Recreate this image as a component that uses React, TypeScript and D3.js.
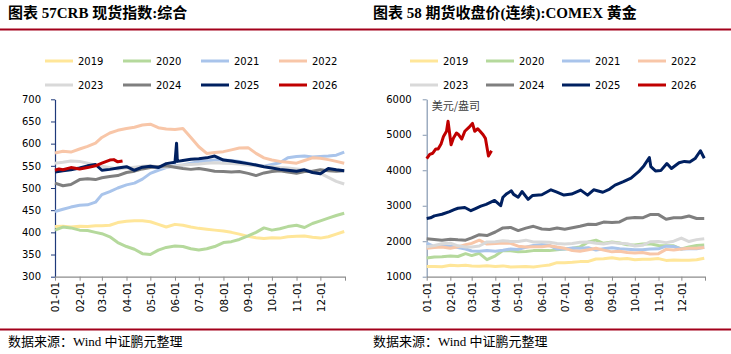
import * as d3 from 'd3'
import { useEffect, useRef } from 'react'

const W = 731
const H = 354

const years = ['2019', '2020', '2021', '2022', '2023', '2024', '2025', '2026']
const colors = ['#FFE699', '#B5D99C', '#A9C4EB', '#F8C6A8', '#D9D9D9', '#7F7F7F', '#002060', '#C00000']

// x tick labels (month starts) - the year end gets a tick but no label
const monthTicks = ['01-01', '02-01', '03-01', '04-01', '05-01', '06-01', '07-01', '08-01', '09-01', '10-01', '11-01', '12-01']

// common sample dates for the full-year series
const dates = [
  '01-01', '01-11', '01-21', '02-01', '02-11', '02-21', '03-01', '03-11', '03-21',
  '04-01', '04-11', '04-21', '05-01', '05-11', '05-21', '06-01', '06-11', '06-21',
  '07-01', '07-11', '07-21', '08-01', '08-11', '08-21', '09-01', '09-11', '09-21',
  '10-01', '10-11', '10-21', '11-01', '11-11', '11-21', '12-01', '12-11', '12-21', '12-31',
]

// ---- CRB spot index: composite
const crb2019 = [413, 414, 412, 414, 413, 415, 415, 416, 422, 425, 426, 426, 424, 418, 412, 418, 416, 412, 409, 407, 405, 403, 400, 396, 391, 388, 386, 388, 387, 390, 391, 392, 389, 387, 390, 396, 402]
const crb2020 = [405, 412, 410, 405, 404, 400, 397, 390, 377, 368, 362, 352, 350, 360, 366, 369, 368, 363, 360, 363, 368, 377, 379, 384, 392, 400, 410, 405, 408, 413, 416, 411, 420, 426, 432, 438, 443]
const crb2021 = [447, 452, 457, 461, 462, 468, 485, 492, 500, 507, 511, 520, 533, 540, 546, 550, 552, 556, 559, 561, 563, 563, 562, 560, 556, 552, 549, 553, 557, 568, 571, 572, 570, 571, 572, 574, 581]
const crb2022 = [579, 583, 581, 588, 594, 601, 614, 624, 630, 634, 637, 642, 644, 636, 633, 632, 634, 614, 593, 578, 580, 582, 586, 590, 591, 578, 568, 563, 560, 558, 556, 562, 568, 567, 564, 560, 556]
const crb2023 = [556, 558, 561, 560, 556, 552, 549, 546, 543, 545, 547, 549, 550, 548, 547, 549, 552, 553, 554, 556, 557, 556, 555, 554, 552, 550, 549, 548, 546, 545, 543, 541, 538, 533, 524, 515, 509]
const crb2024 = [511, 505, 508, 519, 521, 519, 523, 526, 528, 535, 538, 543, 546, 548, 550, 547, 544, 542, 544, 541, 538, 537, 536, 537, 533, 528, 534, 537, 539, 536, 533, 537, 538, 541, 539, 538, 539]
const crb2025Dates = [
  '01-01', '01-11', '01-21', '02-01', '02-11', '02-21', '03-01', '03-11', '03-21',
  '04-01', '04-11', '04-21', '05-01', '05-11', '05-21', '06-01', '06-03', '06-04', '06-11', '06-21',
  '07-01', '07-11', '07-21', '08-01', '08-11', '08-21', '09-01', '09-11', '09-21',
  '10-01', '10-11', '10-21', '11-01', '11-11', '11-21', '12-01', '12-11', '12-21', '12-31',
]
const crb2025 = [536, 539, 541, 545, 550, 553, 540, 542, 545, 548, 540, 547, 549, 546, 555, 558, 601, 560, 562, 565, 566, 568, 572, 563, 561, 558, 555, 552, 548, 545, 542, 540, 538, 541, 535, 532, 544, 541, 539]
const crb2026Dates = ['01-01', '01-06', '01-11', '01-21', '02-01', '02-11', '02-21', '03-01', '03-11', '03-16', '03-21', '03-27']
const crb2026 = [540, 543, 541, 546, 543, 546, 550, 556, 563, 564, 559, 561]

// ---- COMEX gold, continuous futures close (USD/oz)
const gold2019 = [1285, 1290, 1283, 1320, 1310, 1325, 1300, 1295, 1310, 1290, 1305, 1275, 1282, 1290, 1275, 1305, 1330, 1395, 1390, 1405, 1425, 1430, 1500, 1505, 1535, 1500, 1515, 1480, 1490, 1490, 1510, 1460, 1470, 1465, 1465, 1480, 1520]
const gold2020 = [1525, 1555, 1560, 1585, 1570, 1650, 1595, 1660, 1480, 1590, 1740, 1730, 1700, 1710, 1735, 1740, 1735, 1760, 1780, 1800, 1840, 1980, 2030, 1940, 1975, 1950, 1900, 1895, 1925, 1930, 1880, 1870, 1870, 1780, 1840, 1880, 1895]
const gold2021 = [1945, 1850, 1865, 1860, 1825, 1780, 1725, 1720, 1740, 1715, 1745, 1780, 1770, 1830, 1880, 1905, 1880, 1780, 1780, 1810, 1805, 1815, 1750, 1785, 1815, 1790, 1775, 1760, 1760, 1780, 1785, 1860, 1850, 1780, 1785, 1790, 1830]
const gold2022 = [1800, 1820, 1835, 1800, 1840, 1900, 1940, 2030, 1920, 1935, 1950, 1940, 1860, 1840, 1845, 1845, 1875, 1835, 1800, 1735, 1720, 1760, 1800, 1750, 1700, 1720, 1680, 1670, 1680, 1640, 1650, 1770, 1750, 1780, 1800, 1800, 1825]
const gold2023 = [1845, 1880, 1930, 1945, 1870, 1840, 1835, 1865, 1980, 1985, 2015, 1995, 1990, 2030, 1980, 1980, 1970, 1935, 1920, 1935, 1970, 1975, 1945, 1920, 1965, 1945, 1930, 1865, 1885, 1985, 1995, 1960, 2000, 2090, 1990, 2045, 2070]
const gold2024 = [2070, 2050, 2025, 2055, 2040, 2030, 2095, 2185, 2160, 2260, 2375, 2390, 2300, 2370, 2420, 2345, 2330, 2370, 2340, 2380, 2420, 2480, 2470, 2540, 2530, 2545, 2650, 2670, 2660, 2750, 2750, 2620, 2660, 2660, 2710, 2640, 2640]
const gold2025Dates = [
  '01-01', '01-06', '01-11', '01-21', '01-31', '02-06', '02-11', '02-20', '02-28', '03-06', '03-13', '03-20', '03-31',
  '04-08', '04-11', '04-16', '04-22', '04-25', '05-01', '05-06', '05-14', '05-20', '06-01', '06-13', '06-20', '06-30',
  '07-10', '07-22', '07-31', '08-08', '08-20', '08-29', '09-05', '09-16', '09-26', '10-06', '10-13', '10-20', '10-22',
  '10-28', '11-04', '11-12', '11-18', '11-28', '12-05', '12-12', '12-19', '12-26', '12-31',
]
const gold2025 = [2640, 2660, 2715, 2760, 2835, 2890, 2930, 2950, 2860, 2920, 2990, 3040, 3150, 3000, 3240, 3340, 3420, 3320, 3240, 3400, 3180, 3290, 3310, 3450, 3390, 3300, 3330, 3440, 3300, 3450, 3380, 3470, 3580, 3680, 3780, 3960, 4130, 4360, 4100, 3980, 3990, 4190, 4050, 4210, 4250, 4230, 4330, 4550, 4340]
const gold2026Dates = ['01-01', '01-05', '01-09', '01-13', '01-16', '01-20', '01-23', '01-27', '01-29', '02-02', '02-05', '02-09', '02-12', '02-16', '02-20', '02-25', '03-02', '03-05', '03-09', '03-12', '03-16', '03-19', '03-23', '03-27']
const gold2026 = [4330, 4450, 4480, 4600, 4600, 4750, 4950, 5100, 5380, 4720, 4900, 5050, 5000, 4880, 5100, 5200, 5320, 5100, 5170, 5100, 5000, 4900, 4400, 4550]

const crbYTicks = [300, 350, 400, 450, 500, 550, 600, 650, 700]
const goldYTicks = [1000, 2000, 3000, 4000, 5000, 6000]

const crbSeries = [
  [dates, crb2019], [dates, crb2020], [dates, crb2021], [dates, crb2022],
  [dates, crb2023], [dates, crb2024], [crb2025Dates, crb2025], [crb2026Dates, crb2026],
]
const goldSeries = [
  [dates, gold2019], [dates, gold2020], [dates, gold2021], [dates, gold2022],
  [dates, gold2023], [dates, gold2024], [gold2025Dates, gold2025], [gold2026Dates, gold2026],
]

const parse = d3.timeParse('%m-%d')
const fmt = d3.timeFormat('%m-%d')
const numFont = '"DejaVu Sans", Verdana, sans-serif'
const titleFont = '"Liberation Serif", "Noto Sans CJK SC", serif'

function drawPanel(svg, cfg) {
  const g = svg.append('g').attr('transform', `translate(${cfg.left}, 0)`)

  // title
  g.append('text')
    .attr('x', 8)
    .attr('y', 18)
    .style('font-family', titleFont)
    .style('font-weight', 'bold')
    .style('font-size', '15px')
    .text(cfg.title)

  // legend
  years.forEach((yr, i) => {
    const col = i % 4
    const row = Math.floor(i / 4)
    const lx = cfg.legendX + col * cfg.legendStep
    const ly = 61 + row * 24
    g.append('line')
      .attr('x1', lx).attr('x2', lx + 28)
      .attr('y1', ly).attr('y2', ly)
      .attr('stroke', colors[i])
      .attr('stroke-width', 3)
    g.append('text')
      .attr('x', lx + 33)
      .attr('y', ly + 3.5)
      .style('font-family', numFont)
      .style('font-size', '10px')
      .text(yr)
  })

  const x = d3.scaleTime()
    .domain([parse('01-01'), new Date(1901, 0, 1)])
    .range([cfg.x0, cfg.x1])
  const y = d3.scaleLinear().domain(cfg.yDomain).range([276.7, 99.3])

  // y axis
  const ya = g.append('g')
    .attr('transform', `translate(${cfg.x0}, 0)`)
    .call(
      d3.axisLeft(y)
        .tickValues(cfg.yTicks)
        .tickFormat(d3.format('d'))
        .tickSize(4)
        .tickSizeOuter(0)
        .tickPadding(cfg.yPad)
    )
  ya.select('.domain').attr('stroke', cfg.yAxisColor).attr('stroke-width', 1.2)
  ya.selectAll('.tick line').attr('stroke', cfg.yAxisColor)
  ya.selectAll('text')
    .style('font-family', numFont)
    .style('font-size', '10px')
    .attr('fill', '#000')

  // x axis
  const xTickVals = monthTicks.map((m) => parse(m)).concat([new Date(1901, 0, 1)])
  const xa = g.append('g')
    .attr('transform', 'translate(0, 276.7)')
    .call(
      d3.axisBottom(x)
        .tickValues(xTickVals)
        .tickSize(4)
        .tickSizeOuter(0)
        .tickFormat((d) => (d.getFullYear() === 1901 ? '' : fmt(d)))
    )
  xa.select('.domain').attr('stroke', '#8C8C8C').attr('stroke-width', 1.2)
  xa.selectAll('.tick line').attr('stroke', '#8C8C8C')
  xa.selectAll('text')
    .style('font-family', numFont)
    .style('font-size', '10.5px')
    .attr('fill', '#000')
    .attr('text-anchor', 'end')
    .attr('transform', 'translate(0, 5) rotate(-90)')
    .attr('x', 0)
    .attr('y', 0)
    .attr('dy', '0.35em')

  if (cfg.unit) {
    g.append('text')
      .attr('x', cfg.x0 + 5)
      .attr('y', 109.5)
      .style('font-family', '"Noto Sans CJK SC", sans-serif')
      .style('font-size', '11px')
      .attr('fill', '#404040')
      .text(cfg.unit)
  }

  const line = d3.line()
    .x((d) => x(parse(d[0])))
    .y((d) => y(d[1]))

  cfg.series.forEach(([ds, vs], i) => {
    g.append('path')
      .datum(ds.map((dd, j) => [dd, vs[j]]))
      .attr('fill', 'none')
      .attr('stroke', colors[i])
      .attr('stroke-width', 3)
      .attr('stroke-linejoin', 'round')
      .attr('d', line)
  })

  // source
  g.append('text')
    .attr('x', 8)
    .attr('y', 346)
    .style('font-family', titleFont)
    .style('font-size', '13px')
    .text('数据来源：Wind 中证鹏元整理')
}

export default function App() {
  const ref = useRef(null)

  useEffect(() => {
    const svg = d3.select(ref.current)
    svg.selectAll('*').remove()

    // red rules across the whole page
    ;[29.5, 329.5].forEach((yy) => {
      svg.append('line')
        .attr('x1', 0).attr('x2', W)
        .attr('y1', yy).attr('y2', yy)
        .attr('stroke', '#A3001B')
        .attr('stroke-width', 2)
    })

    drawPanel(svg, {
      left: 0,
      title: '图表 57CRB 现货指数:综合',
      legendX: 45,
      legendStep: 78,
      x0: 55,
      x1: 345,
      yDomain: [300, 700],
      yTicks: crbYTicks,
      yPad: 10,
      yAxisColor: '#1F3A7A',
      series: crbSeries,
    })
    drawPanel(svg, {
      left: 365,
      title: '图表 58 期货收盘价(连续):COMEX 黄金',
      legendX: 45,
      legendStep: 76,
      x0: 61.7,
      x1: 340,
      yDomain: [1000, 6000],
      yTicks: goldYTicks,
      yPad: 11,
      yAxisColor: '#8497B0',
      unit: '美元/盎司',
      series: goldSeries,
    })
  }, [])

  return (
    <div style={{ position: 'absolute', left: 0, top: 0 }}>
      <svg ref={ref} width={W} height={H} style={{ display: 'block', background: '#fff' }} />
    </div>
  )
}
